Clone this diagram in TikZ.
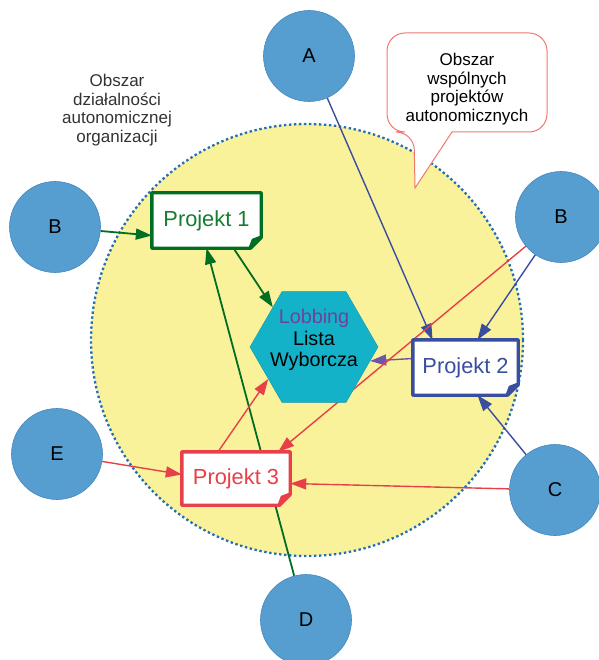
\documentclass[tikz,border=0pt]{standalone}
\usepackage{fontspec}
\setmainfont{Liberation Sans}
\usetikzlibrary{arrows.meta,shapes.geometric}
\pgfdeclarelayer{back}\pgfdeclarelayer{mid}\pgfsetlayers{back,mid,main}
\definecolor{zoneyellow}{RGB}{250,242,155}
\definecolor{zoneline}{RGB}{35,110,185}
\definecolor{ballfill}{RGB}{86,158,208}
\definecolor{ballline}{RGB}{70,135,190}
\definecolor{pgreen}{RGB}{0,110,35}
\definecolor{pgreentext}{RGB}{20,125,50}
\definecolor{pblue}{RGB}{58,78,160}
\definecolor{pred}{RGB}{232,64,72}
\definecolor{ppurple}{RGB}{110,85,170}
\definecolor{hexfill}{RGB}{20,178,200}
\definecolor{lobby}{RGB}{112,64,160}
\definecolor{callline}{RGB}{240,120,110}
\definecolor{greytext}{RGB}{50,50,50}
\newcommand{\foldbox}[2]{%
  \filldraw[boxline,draw=#2,fill=white] (#1.north west) -- (#1.north east) -- ([yshift=11pt]#1.south east) -- ([xshift=-11pt]#1.south east) -- (#1.south west) -- cycle;
  \filldraw[boxline,draw=#2,fill=#2] ([yshift=11pt]#1.south east) -- ([xshift=-11pt]#1.south east) -- ([xshift=-8pt,yshift=8pt]#1.south east) -- cycle;}
\begin{document}
\begin{tikzpicture}[x=1pt,y=-1pt,
  zone/.style={circle,fill=zoneyellow,draw=zoneline,line width=2.3pt,dash pattern=on 2.4pt off 2.6pt,minimum size=432pt,inner sep=0pt},
  ball/.style={circle,fill=ballfill,draw=ballline,line width=0.6pt,minimum size=91pt,inner sep=0pt,font=\fontsize{20}{24}\selectfont},
  projnode/.style={rectangle,inner sep=0pt,font=\fontsize{21.8}{25}\selectfont},
  boxline/.style={line width=3.4pt,line join=round},
  note/.style={align=center,font=\fontsize{17}{18.6}\selectfont},
  conn/.style={line width=1.4pt,-{Triangle[length=16pt,width=11pt]}},
]
\useasboundingbox (0,0) rectangle (598,660);
\begin{pgfonlayer}{back}
  \node[zone] (zone) at (307,340) {};
\end{pgfonlayer}

% callout
\filldraw[draw=callline,fill=white,line width=1pt]
  (415,188) -- (452,132) -- (480,132) [rounded corners=18pt] -- (547,132) -- (547,33) -- (387,33) -- (387,132) -- (414,132) [sharp corners] -- cycle;
\node[note,text=black] (calltext) at (467,89) {Obszar\\wspólnych\\projektów\\autonomicznych};

\node[note,text=greytext] (zonetext) at (117,110) {Obszar\\działalności\\autonomicznej\\organizacji};

% outer circles
\node[ball] (A) at (309,56) {A};
\node[ball] (Bl) at (55,227) {B};
\node[ball] (Br) at (561,217) {B};
\node[ball] (E) at (57,454) {E};
\node[ball] (C) at (555,490) {C};
\node[ball] (D) at (306,620) {D};

% hexagon
\node[regular polygon,regular polygon sides=6,minimum size=128pt,inner sep=0pt,fill=hexfill,draw=hexfill!85!black,line width=0.4pt] (Hex) at (314,347) {};
\node[align=center,font=\fontsize{19.8}{21.5}\selectfont] (hextext) at (314,340) {{\color{lobby}Lobbing}\\Lista\\Wyborcza};

% project boxes (text)
\node[projnode,minimum width=109pt,minimum height=55pt,text=pgreentext] (P1) at (206.5,220.5) {Projekt 1};
\node[projnode,minimum width=105pt,minimum height=55pt,text=pblue] (P2) at (465.5,367.5) {Projekt 2};
\node[projnode,minimum width=108pt,minimum height=53pt,text=pred] (P3) at (236,478.5) {Projekt 3};

\begin{pgfonlayer}{mid}
  % green
  \draw[conn,pgreen,line width=1.8pt] (Bl) -- ([yshift=-15pt]P1.west);
  \draw[conn,pgreen,line width=1.8pt] ([xshift=27pt]P1.south) -- (Hex.136);
  \draw[conn,pgreen,line width=1.8pt] (D) -- (P1.south);
  % blue
  \draw[conn,pblue] (A) -- ([xshift=-33pt]P2.north);
  \draw[conn,pblue] (Br) -- ([xshift=12pt]P2.north);
  \draw[conn,pblue] (C) -- ([xshift=12pt]P2.south);
  \draw[conn,ppurple] ([yshift=9pt]P2.west) -- (Hex.-14);
  % red
  \draw[conn,pred] (E) -- ([yshift=4pt]P3.west);
  \draw[conn,pred] (C) -- ([yshift=-5pt]P3.east);
  \draw[conn,pred] ([xshift=-18pt]P3.north) -- (Hex.215);
  \draw[conn,pred] (Br) -- ([xshift=-12pt]P3.north east);
  % boxes
  \foldbox{P1}{pgreen}
  \foldbox{P2}{pblue}
  \foldbox{P3}{pred}
\end{pgfonlayer}
\end{tikzpicture}
\end{document}
